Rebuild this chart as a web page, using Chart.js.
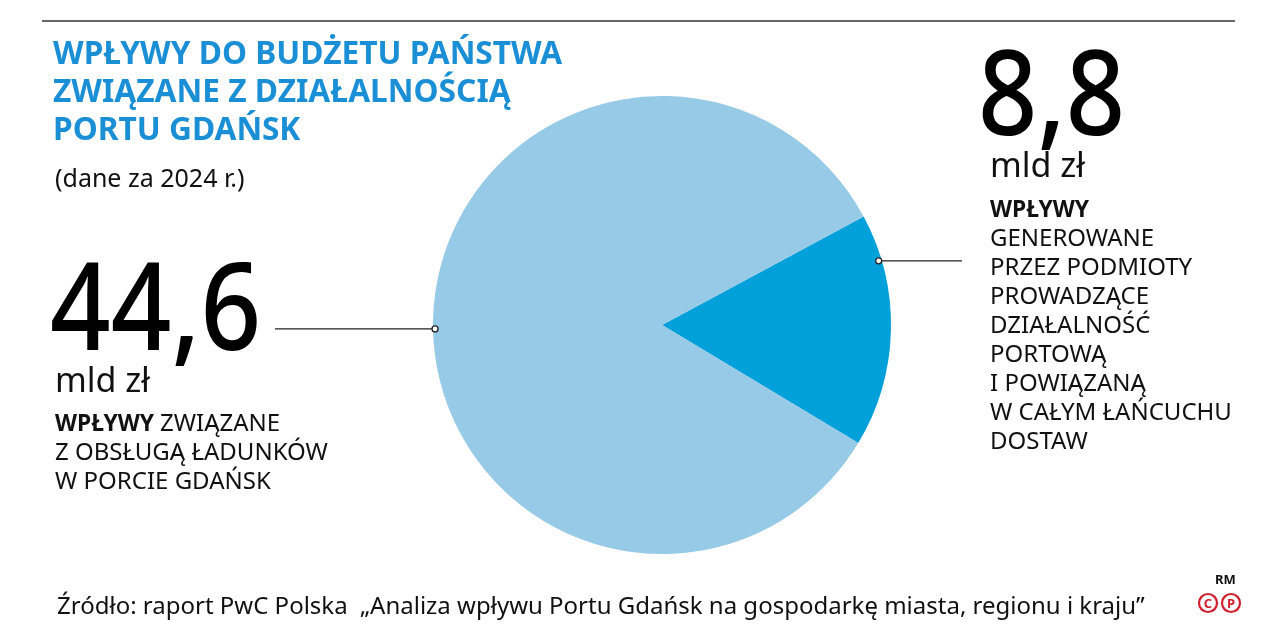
<!DOCTYPE html>
<html lang="pl">
<head>
<meta charset="utf-8">
<title>Wpływy do budżetu państwa związane z działalnością Portu Gdańsk</title>
<script src="https://cdn.jsdelivr.net/npm/chart.js@4/dist/chart.umd.min.js"></script>
<style>
    html, body { margin: 0; padding: 0; background: #fff; }
    #wrap { width: 1273px; height: 627px; position: relative; }
</style>
</head>
<body>
<div id="wrap"><canvas id="pie_chart" width="1273" height="627"></canvas></div>
<script>
'use strict';

// Chart data
const sliceLabels = [
    'Wpływy generowane przez podmioty prowadzące działalność portową i powiązaną w całym łańcuchu dostaw',
    'Wpływy związane z obsługą ładunków w Porcie Gdańsk'
];
const sliceValues = [8.8, 44.6];           // mld zł
const sliceColors = ['#00a0da', '#96cae6'];
const valueUnit = 'mld zł';

// Texts
const titleLines = ['WPŁYWY DO BUDŻETU PAŃSTWA', 'ZWIĄZANE Z DZIAŁALNOŚCIĄ', 'PORTU GDAŃSK'];
const subtitleText = '(dane za 2024 r.)';
const leftDescBold = 'WPŁYWY';
const leftDescLines = ['ZWIĄZANE', 'Z OBSŁUGĄ ŁADUNKÓW', 'W PORCIE GDAŃSK'];
const rightDescBold = 'WPŁYWY';
const rightDescLines = ['GENEROWANE', 'PRZEZ PODMIOTY', 'PROWADZĄCE', 'DZIAŁALNOŚĆ', 'PORTOWĄ', 'I POWIĄZANĄ', 'W CAŁYM ŁAŃCUCHU', 'DOSTAW'];
const sourceText = 'Źródło: raport PwC Polska  „Analiza wpływu Portu Gdańsk na gospodarkę miasta, regionu i kraju”';
const creditText = 'RM';

const FONT = '"Noto Sans", "Open Sans", sans-serif';
const TITLE_BLUE = '#1a8fd5';
const INK = '#111';

/**
 * Write a line of text, optionally squeezed horizontally.
 */
function drawText(ctx, str, x, y, font, color, squeeze) {
    ctx.font = font;
    ctx.fillStyle = color;
    ctx.textAlign = 'left';
    ctx.textBaseline = 'alphabetic';
    const w = ctx.measureText(str).width;
    if (squeeze && squeeze !== 1) {
        ctx.fillText(str, x, y, w * squeeze);
        return w * squeeze;
    }
    ctx.fillText(str, x, y);
    return w;
}

function formatValue(v) {
    return v.toFixed(1).replace('.', ',');
}

// Point on the edge of the pie, angle in degrees (0 = right, clockwise)
function edgePoint(arc, deg, inset) {
    const a = deg * Math.PI / 180;
    const r = arc.outerRadius - inset;
    return { x: arc.x + Math.cos(a) * r, y: arc.y + Math.sin(a) * r };
}

function leaderLine(ctx, p, x2) {
    ctx.save();
    ctx.strokeStyle = '#222';
    ctx.lineWidth = 1.2;
    ctx.beginPath();
    ctx.moveTo(p.x + (x2 > p.x ? 3 : -3), p.y);
    ctx.lineTo(x2, p.y);
    ctx.stroke();
    ctx.beginPath();
    ctx.arc(p.x, p.y, 3, 0, Math.PI * 2);
    ctx.fillStyle = '#fff';
    ctx.fill();
    ctx.lineWidth = 1.3;
    ctx.stroke();
    ctx.restore();
}

const annotationPlugin = {
    id: 'gdanskAnnotations',
    afterDraw(chart) {
        const ctx = chart.ctx;
        const arcs = chart.getDatasetMeta(0).data;
        ctx.save();

        // top rule
        ctx.strokeStyle = '#333';
        ctx.lineWidth = 1.5;
        ctx.beginPath();
        ctx.moveTo(42, 21);
        ctx.lineTo(1235, 21);
        ctx.stroke();

        // title
        titleLines.forEach((line, i) => {
            drawText(ctx, line, 53, 64 + i * 38, 'bold 32px ' + FONT, TITLE_BLUE, 0.99);
        });
        drawText(ctx, subtitleText, 55, 187, '25px ' + FONT, INK, 1);

        // left block: big slice
        drawText(ctx, formatValue(sliceValues[1]), 50, 350, '500 122px ' + FONT, '#000', 0.87);
        drawText(ctx, valueUnit, 55, 392, '34px ' + FONT, INK, 1);
        const bw = drawText(ctx, leftDescBold, 55, 431, 'bold 24px ' + FONT, INK, 0.95);
        drawText(ctx, leftDescLines[0], 55 + bw + 6, 431, '24px ' + FONT, INK, 1);
        leftDescLines.slice(1).forEach((line, i) => {
            drawText(ctx, line, 55, 460 + i * 29, '24px ' + FONT, INK, 1);
        });

        // right block: small slice
        drawText(ctx, formatValue(sliceValues[0]), 978, 135, '500 118px ' + FONT, '#000', 0.88);
        drawText(ctx, valueUnit, 990, 177, '34px ' + FONT, INK, 1);
        drawText(ctx, rightDescBold, 990, 217, 'bold 24px ' + FONT, INK, 0.95);
        rightDescLines.forEach((line, i) => {
            drawText(ctx, line, 990, 246 + i * 29, '24px ' + FONT, INK, 1);
        });

        // leader lines to the slices
        leaderLine(ctx, edgePoint(arcs[1], 179, 2), 275);
        leaderLine(ctx, edgePoint(arcs[0], -16.5, 3), 962);

        // source
        drawText(ctx, sourceText, 57, 614, '24px ' + FONT, INK, 1);

        // credit
        drawText(ctx, creditText, 1215, 584, 'bold 13px ' + FONT, '#111', 1);
        ['C', 'P'].forEach((ch, i) => {
            const cx = 1208 + i * 23, cy = 603;
            ctx.beginPath();
            ctx.arc(cx, cy, 9, 0, Math.PI * 2);
            ctx.strokeStyle = '#d0202e';
            ctx.lineWidth = 2.2;
            ctx.stroke();
            ctx.font = 'bold 13px ' + FONT;
            ctx.fillStyle = '#d0202e';
            ctx.textAlign = 'center';
            ctx.textBaseline = 'middle';
            ctx.fillText(ch, cx, cy + 1);
        });

        ctx.restore();
    }
};

new Chart(document.getElementById('pie_chart').getContext('2d'), {
    type: 'pie',
    data: {
        labels: sliceLabels,
        datasets: [{
            data: sliceValues,
            backgroundColor: sliceColors,
            borderWidth: 0
        }]
    },
    options: {
        responsive: false,
        animation: false,
        events: [],
        rotation: 61.7,  // small slice starts just above 3 o'clock
        layout: {
            padding: { left: 433, right: 382, top: 96, bottom: 73 }
        },
        plugins: {
            legend: { display: false },
            tooltip: { enabled: false },
            title: { display: false }
        }
    },
    plugins: [annotationPlugin]
});
</script>
</body>
</html>
